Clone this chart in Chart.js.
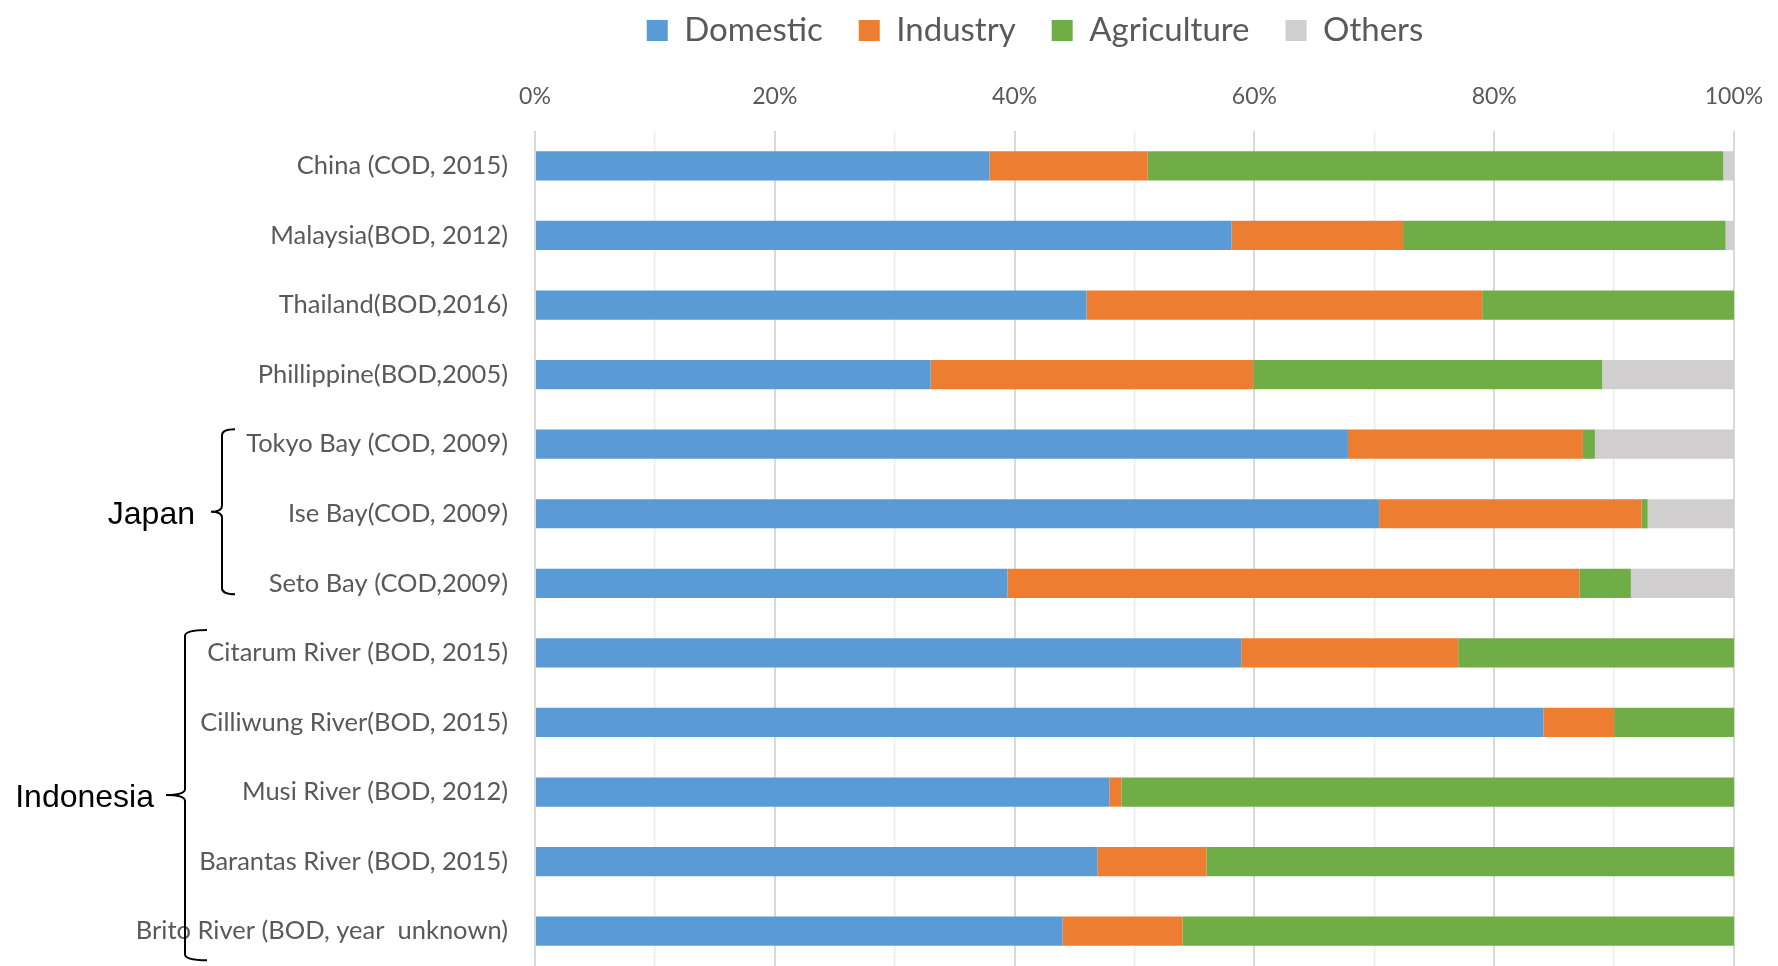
<!DOCTYPE html>
<html>
<head>
<meta charset="utf-8">
<title>Pollution load by source</title>
<script src="https://cdn.jsdelivr.net/npm/chart.js@4.4.1/dist/chart.umd.min.js"></script>
<style>
    html, body { margin: 0; padding: 0; background: #fff; }
    #wrap { width: 1778px; height: 966px; position: relative; }
</style>
</head>
<body>
<div id="wrap"><canvas id="loadChart"></canvas></div>
<script>
// Categories (top to bottom)
const categories = [
    'China (COD, 2015)',
    'Malaysia(BOD, 2012)',
    'Thailand(BOD,2016)',
    'Phillippine(BOD,2005)',
    'Tokyo Bay (COD, 2009)',
    'Ise Bay(COD, 2009)',
    'Seto Bay (COD,2009)',
    'Citarum River (BOD, 2015)',
    'Cilliwung River(BOD, 2015)',
    'Musi River (BOD, 2012)',
    'Barantas River (BOD, 2015)',
    'Brito River (BOD, year  unknown)'
];

// Share of load by source, in %
const domestic    = [37.9, 58.1, 46.0, 33.0, 67.8, 70.4, 39.4, 58.9, 84.1, 47.9, 46.9, 44.0];
const industry    = [13.2, 14.3, 33.0, 26.9, 19.6, 21.9, 47.7, 18.1,  5.9,  1.0,  9.1, 10.0];
const agriculture = [48.0, 26.9, 21.0, 29.1,  1.0,  0.5,  4.3, 23.0, 10.0, 51.1, 44.0, 46.0];
const others      = [ 0.9,  0.7,  0.0, 11.0, 11.6,  7.2,  8.6,  0.0,  0.0,  0.0,  0.0,  0.0];

const seriesNames = ['Domestic', 'Industry', 'Agriculture', 'Others'];
const seriesColors = ['#5b9bd5', '#ed7d31', '#70ad47', '#d0cece'];

// Country groups marked with a brace on the left
const groupNames = ['Japan', 'Indonesia'];
const groupFirst = [4, 7];
const groupLast = [6, 11];

// Brace look (pixels)
const braceStyle = [
    { x: 222, hook: 235, nub: 211, textX: 195, topPad: 15, bottomPad: 11 },
    { x: 185, hook: 207, nub: 166, textX: 154, topPad: 23, bottomPad: 29 }
];

// Draw group braces and names to the left of the category labels
const bracePlugin = {
    id: 'groupBraces',
    afterDraw(chart) {
        const ctx = chart.ctx;
        const yScale = chart.scales.y;
        ctx.save();
        ctx.strokeStyle = '#000';
        ctx.lineWidth = 2;
        ctx.fillStyle = '#000';
        ctx.font = '32px "Liberation Sans", Arial, sans-serif';
        ctx.textAlign = 'right';
        ctx.textBaseline = 'middle';
        groupNames.forEach((name, i) => {
            const s = braceStyle[i];
            const top = yScale.getPixelForValue(groupFirst[i]) - s.topPad;
            const bottom = yScale.getPixelForValue(groupLast[i]) + s.bottomPad;
            const mid = (top + bottom) / 2;
            const r = 6;
            ctx.beginPath();
            ctx.moveTo(s.hook, top);
            ctx.quadraticCurveTo(s.x, top, s.x, top + r);
            ctx.lineTo(s.x, mid - r);
            ctx.quadraticCurveTo(s.x, mid, s.nub, mid);
            ctx.moveTo(s.nub, mid);
            ctx.quadraticCurveTo(s.x, mid, s.x, mid + r);
            ctx.lineTo(s.x, bottom - r);
            ctx.quadraticCurveTo(s.x, bottom, s.hook, bottom);
            ctx.stroke();
            ctx.fillText(name, s.textX, mid + 3);
        });
        ctx.restore();
    }
};

// Centre the legend over the same span as the original figure
const legendOffset = {
    id: 'legendOffset',
    afterLayout(chart) {
        const lg = chart.legend;
        if (!lg) return;
        lg.left = 336;
        lg.right = 1734;
        lg.width = lg.right - lg.left;
    }
};

const seriesValues = [domestic, industry, agriculture, others];

const datasets = seriesNames.map((name, i) => ({
    label: name,
    data: seriesValues[i],
    backgroundColor: seriesColors[i],
    borderWidth: 0,
    categoryPercentage: 0.42,
    barPercentage: 1.0
}));

const ctx = document.getElementById('loadChart').getContext('2d');
new Chart(ctx, {
    type: 'bar',
    data: { labels: categories, datasets: datasets },
    options: {
        indexAxis: 'y',
        responsive: true,
        maintainAspectRatio: false,
        animation: false,
        layout: {
            padding: { top: -22, left: 10, right: 44, bottom: 0 }
        },
        plugins: {
            legend: {
                position: 'top',
                labels: {
                    color: '#595959',
                    boxWidth: 21,
                    boxHeight: 21,
                    padding: 36,
                    font: { family: 'Lato', size: 33 }
                }
            },
            tooltip: { enabled: false }
        },
        scales: {
            x: {
                position: 'top',
                stacked: true,
                min: 0,
                max: 100,
                border: { display: false },
                grid: {
                    drawTicks: false,
                    color: (c) => (c.tick && c.tick.value % 20 === 0) ? '#d9d9d9' : '#ededed',
                    lineWidth: (c) => (c.tick && c.tick.value % 20 === 0) ? 2 : 1.5
                },
                // empty title only used as a spacer under the legend
                title: { display: true, text: '', padding: 0, font: { size: 6, lineHeight: 1 } },
                ticks: {
                    stepSize: 10,
                    padding: 0,
                    color: '#595959',
                    maxRotation: 0,
                    font: { family: 'Lato', size: 23, lineHeight: 2.96 },
                    callback: (value) => value % 20 === 0 ? value + '%' : ''
                }
            },
            y: {
                stacked: true,
                border: { display: false },
                grid: { display: false, drawTicks: false },
                ticks: {
                    padding: 27,
                    color: '#595959',
                    font: { family: 'Lato', size: 25.5 }
                },
                afterFit: (scale) => {
                    scale.width = 525;
                    scale.paddingTop = 0;
                    scale.paddingBottom = 0;
                }
            }
        }
    },
    plugins: [bracePlugin, legendOffset]
});
</script>
</body>
</html>
